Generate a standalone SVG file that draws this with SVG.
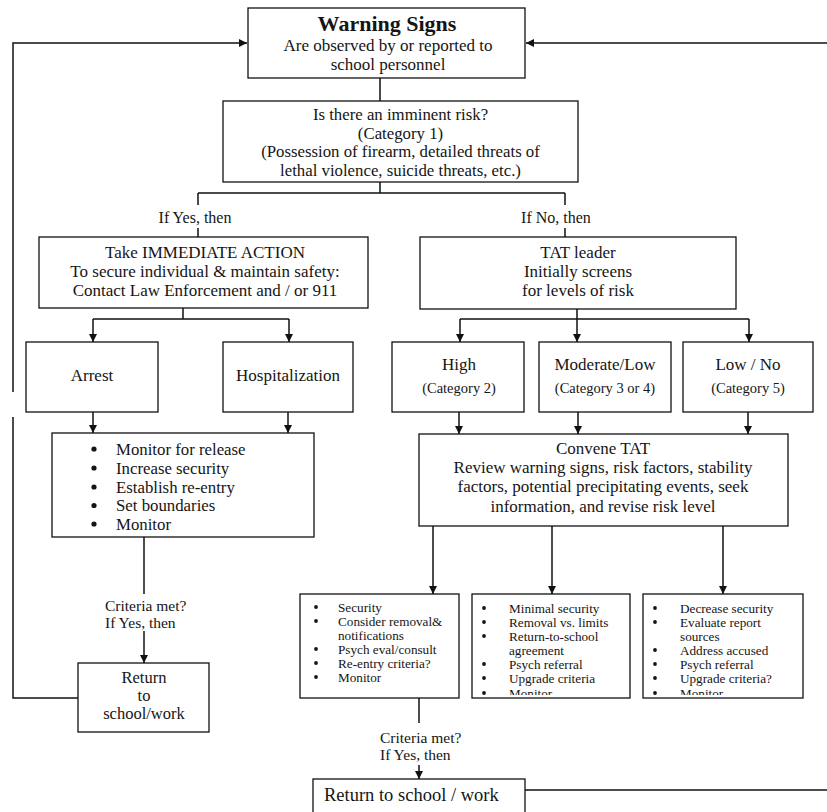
<svg xmlns="http://www.w3.org/2000/svg" width="827" height="812" viewBox="0 0 827 812">
<defs>
<style>
.box{fill:#fff;stroke:#111;stroke-width:1.3}
.c{fill:none;stroke:#111;stroke-width:1.5}
text{font-family:"Liberation Serif","Times New Roman",serif;fill:#151515}
.m{font-size:17px;text-anchor:middle}
.s{font-size:14.5px;text-anchor:middle}
.l{font-size:16.8px}
.b{font-size:13.2px}
.q{font-size:15.5px}
.h{font-size:22px;font-weight:bold;text-anchor:middle}
.dot{fill:#151515}
</style>
<marker id="ah" viewBox="0 0 10 10" refX="10" refY="5" markerWidth="8" markerHeight="8" markerUnits="userSpaceOnUse" orient="auto">
<path d="M0,0L10,5L0,10z" fill="#111"/>
</marker>
<clipPath id="clip2"><rect x="472" y="594" width="158" height="101"/></clipPath>
<clipPath id="clip3"><rect x="643" y="594" width="160" height="101"/></clipPath>
</defs>
<rect width="827" height="812" fill="#fff"/>

<g id="connectors">
<path class="c" d="M78,698 H13 V417"/>
<path class="c" d="M13,392 V43 H247" marker-end="url(#ah)"/>
<path class="c" d="M827,43 H526" marker-end="url(#ah)"/>
<path class="c" d="M525,790 H827"/>
<path class="c" d="M380,78 V101"/>
<path class="c" d="M380,182 V193 M198,193 H565 M198,193 V205 M198,228 V237 M565,193 V205 M565,228 V237"/>
<path class="c" d="M183,308 V319 M93,319 H289"/>
<path class="c" d="M93,319 V342" marker-end="url(#ah)"/>
<path class="c" d="M289,319 V342" marker-end="url(#ah)"/>
<path class="c" d="M93,412 V433" marker-end="url(#ah)"/>
<path class="c" d="M288,412 V433" marker-end="url(#ah)"/>
<path class="c" d="M144,537 V594"/>
<path class="c" d="M144,631 V663" marker-end="url(#ah)"/>
<path class="c" d="M577,309 V319 M460,319 H749"/>
<path class="c" d="M460,319 V342" marker-end="url(#ah)"/>
<path class="c" d="M577,319 V342" marker-end="url(#ah)"/>
<path class="c" d="M749,319 V342" marker-end="url(#ah)"/>
<path class="c" d="M459,412 V434" marker-end="url(#ah)"/>
<path class="c" d="M578,412 V434" marker-end="url(#ah)"/>
<path class="c" d="M748,412 V434" marker-end="url(#ah)"/>
<path class="c" d="M433,526 V594" marker-end="url(#ah)"/>
<path class="c" d="M552,526 V594" marker-end="url(#ah)"/>
<path class="c" d="M723,526 V594" marker-end="url(#ah)"/>
<path class="c" d="M419,698 V723"/>
<path class="c" d="M419,765 V779" marker-end="url(#ah)"/>
<text class="m" x="195" y="223" style="font-size:16px">If Yes, then</text>
<text class="m" x="556" y="223" style="font-size:16px">If No, then</text>
<text class="q" x="105" y="611">Criteria met?</text>
<text class="q" x="105" y="628">If Yes, then</text>
<text class="q" x="380" y="743">Criteria met?</text>
<text class="q" x="380" y="760">If Yes, then</text>
</g>

<g id="warning">
<rect class="box" x="248" y="8" width="277" height="70"/>
<text class="h" x="387" y="31">Warning Signs</text>
<text class="m" x="388" y="51">Are observed by or reported to</text>
<text class="m" x="388" y="70">school personnel</text>
</g>

<g id="imminent">
<rect class="box" x="223" y="101" width="355" height="81"/>
<text class="m" x="400.5" y="120" style="font-size:16.8px">Is there an imminent risk?</text>
<text class="m" x="400.5" y="138.6" style="font-size:16.8px">(Category 1)</text>
<text class="m" x="400.5" y="157.2" style="font-size:16.8px">(Possession of firearm, detailed threats of</text>
<text class="m" x="400.5" y="175.8" style="font-size:16.8px">lethal violence, suicide threats, etc.)</text>
</g>

<g id="immediate">
<rect class="box" x="39" y="237" width="329" height="71"/>
<text class="m" x="205" y="258">Take IMMEDIATE ACTION</text>
<text class="m" x="205" y="277">To secure individual &amp; maintain safety:</text>
<text class="m" x="205" y="296">Contact Law Enforcement and / or 911</text>
</g>

<g id="tatleader">
<rect class="box" x="420" y="237" width="316" height="72"/>
<text class="m" x="578" y="258">TAT leader</text>
<text class="m" x="578" y="277">Initially screens</text>
<text class="m" x="578" y="296">for levels of risk</text>
</g>

<g id="arrest">
<rect class="box" x="26" y="342" width="132" height="70"/>
<text class="m" x="92" y="381">Arrest</text>
</g>

<g id="hospitalization">
<rect class="box" x="223" y="342" width="130" height="70"/>
<text class="m" x="288" y="381">Hospitalization</text>
</g>

<g id="high">
<rect class="box" x="392" y="342" width="132" height="70"/>
<text class="m" x="459" y="370">High</text>
<text class="s" x="459" y="393">(Category 2)</text>
</g>

<g id="moderate">
<rect class="box" x="539" y="342" width="132" height="70"/>
<text class="m" x="605" y="370">Moderate/Low</text>
<text class="s" x="605" y="393">(Category 3 or 4)</text>
</g>

<g id="lowno">
<rect class="box" x="683" y="342" width="130" height="70"/>
<text class="m" x="748" y="370">Low / No</text>
<text class="s" x="748" y="393">(Category 5)</text>
</g>

<g id="monitor">
<rect class="box" x="52" y="433" width="262" height="104"/>
<circle class="dot" cx="94" cy="449" r="2.6"/>
<circle class="dot" cx="94" cy="468" r="2.6"/>
<circle class="dot" cx="94" cy="487" r="2.6"/>
<circle class="dot" cx="94" cy="505.5" r="2.6"/>
<circle class="dot" cx="94" cy="524" r="2.6"/>
<text class="l" x="116" y="455">Monitor for release</text>
<text class="l" x="116" y="473.75">Increase security</text>
<text class="l" x="116" y="492.5">Establish re-entry</text>
<text class="l" x="116" y="511.25">Set boundaries</text>
<text class="l" x="116" y="530">Monitor</text>
</g>

<g id="convene">
<rect class="box" x="419" y="434" width="369" height="92"/>
<text class="m" x="603" y="454">Convene TAT</text>
<text class="m" x="603" y="473.2">Review warning signs, risk factors, stability</text>
<text class="m" x="603" y="492.4">factors, potential precipitating events, seek</text>
<text class="m" x="603" y="511.6">information, and revise risk level</text>
</g>

<g id="highactions">
<rect class="box" x="300" y="594" width="159" height="104"/>
<circle class="dot" cx="316" cy="607" r="1.9"/>
<circle class="dot" cx="316" cy="621" r="1.9"/>
<circle class="dot" cx="316" cy="649" r="1.9"/>
<circle class="dot" cx="316" cy="663" r="1.9"/>
<circle class="dot" cx="316" cy="677" r="1.9"/>
<text class="b" x="338" y="611.5">Security</text>
<text class="b" x="338" y="625.5">Consider removal&amp;</text>
<text class="b" x="338" y="639.5">notifications</text>
<text class="b" x="338" y="653.5">Psych eval/consult</text>
<text class="b" x="338" y="667.5">Re-entry criteria?</text>
<text class="b" x="338" y="681.5">Monitor</text>
</g>

<g id="moderateactions">
<rect class="box" x="472" y="594" width="158" height="104"/>
<g clip-path="url(#clip2)">
<circle class="dot" cx="484" cy="608" r="1.9"/>
<circle class="dot" cx="484" cy="622" r="1.9"/>
<circle class="dot" cx="484" cy="636" r="1.9"/>
<circle class="dot" cx="484" cy="664" r="1.9"/>
<circle class="dot" cx="484" cy="678" r="1.9"/>
<circle class="dot" cx="484" cy="693" r="1.9"/>
<text class="b" x="509" y="612.5">Minimal security</text>
<text class="b" x="509" y="626.5">Removal vs. limits</text>
<text class="b" x="509" y="640.5">Return-to-school</text>
<text class="b" x="509" y="654.5">agreement</text>
<text class="b" x="509" y="668.5">Psych referral</text>
<text class="b" x="509" y="682.5">Upgrade criteria</text>
<text class="b" x="509" y="698">Monitor</text>
</g>
</g>

<g id="lowactions">
<rect class="box" x="643" y="594" width="160" height="104"/>
<g clip-path="url(#clip3)">
<circle class="dot" cx="655" cy="608" r="1.9"/>
<circle class="dot" cx="655" cy="622" r="1.9"/>
<circle class="dot" cx="655" cy="650" r="1.9"/>
<circle class="dot" cx="655" cy="664" r="1.9"/>
<circle class="dot" cx="655" cy="678" r="1.9"/>
<circle class="dot" cx="655" cy="693" r="1.9"/>
<text class="b" x="680" y="612.5">Decrease security</text>
<text class="b" x="680" y="626.5">Evaluate report</text>
<text class="b" x="680" y="640.5">sources</text>
<text class="b" x="680" y="654.5">Address accused</text>
<text class="b" x="680" y="668.5">Psych referral</text>
<text class="b" x="680" y="682.5">Upgrade criteria?</text>
<text class="b" x="680" y="698">Monitor</text>
</g>
</g>

<g id="returnleft">
<rect class="box" x="78" y="663" width="131" height="69"/>
<text class="m" x="144" y="683" style="font-size:16.5px">Return</text>
<text class="m" x="144" y="701" style="font-size:16.5px">to</text>
<text class="m" x="144" y="719" style="font-size:16.5px">school/work</text>
</g>

<g id="returnbottom">
<rect class="box" x="313" y="779" width="212" height="50"/>
<text x="324" y="801" style="font-size:18.5px">Return to school / work</text>
</g>
</svg>
